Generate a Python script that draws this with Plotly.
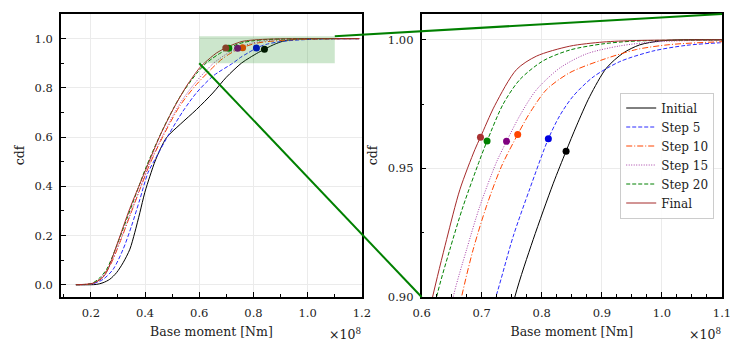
import plotly.graph_objects as go

# ---------------------------------------------------------------------------
# data: cdf of base moment [x 1e8 Nm] per optimisation step
# ---------------------------------------------------------------------------
names = ["Initial", "Step 5", "Step 10", "Step 15", "Step 20", "Final"]

x_initial = [0.145, 0.22, 0.245, 0.27, 0.295, 0.319, 0.344, 0.362, 0.381, 0.399, 0.418, 0.44,
             0.479, 0.53, 0.59, 0.65, 0.70, 0.7552, 0.7857, 0.8189, 0.8405, 0.8578, 0.880,
             0.9077, 0.9354, 0.963, 0.9964, 1.03, 1.10, 1.19]
y_initial = [0.0, 0.001, 0.008, 0.022, 0.049, 0.089, 0.144, 0.211, 0.293, 0.374, 0.441, 0.51,
             0.597, 0.652, 0.712, 0.779, 0.843, 0.9, 0.9223, 0.944, 0.9567, 0.9665, 0.978,
             0.989, 0.9948, 0.998, 0.9995, 0.99995, 1.0, 1.0]

x_step5 = [0.145, 0.2085, 0.245, 0.282, 0.319, 0.35, 0.381, 0.411, 0.442, 0.4915, 0.5406, 0.59,
           0.651, 0.7236, 0.7524, 0.780, 0.811, 0.830, 0.852, 0.8855, 0.930, 0.985, 1.04, 1.096, 1.19]
y_step5 = [0.0, 0.004, 0.0215, 0.062, 0.1435, 0.238, 0.347, 0.455, 0.52, 0.618, 0.706, 0.78,
           0.848, 0.9, 0.9235, 0.942, 0.9615, 0.9705, 0.978, 0.9855, 0.9915, 0.9956, 0.9978, 0.9988, 0.9996]

x_step10 = [0.145, 0.2, 0.233, 0.27, 0.307, 0.344, 0.381, 0.4177, 0.4668, 0.528, 0.59, 0.6665,
            0.6858, 0.708, 0.733, 0.760, 0.780, 0.8079, 0.8467, 0.902, 0.9576, 1.013, 1.096, 1.19]
y_step10 = [0.0, 0.003, 0.0215, 0.0756, 0.171, 0.279, 0.387, 0.49, 0.604, 0.726, 0.814, 0.9,
            0.9184, 0.9353, 0.9508, 0.9632, 0.9715, 0.9806, 0.9872, 0.9923, 0.9962, 0.9981, 0.9992, 0.9997]

x_step15 = [0.145, 0.2, 0.233, 0.27, 0.307, 0.344, 0.381, 0.4177, 0.4668, 0.528, 0.59, 0.6526,
            0.6749, 0.697, 0.7248, 0.7414, 0.7635, 0.791, 0.830, 0.8744, 0.930, 0.985, 1.05, 1.19]
y_step15 = [0.0, 0.003, 0.022, 0.078, 0.175, 0.283, 0.39, 0.495, 0.61, 0.735, 0.827, 0.9,
            0.9184, 0.9353, 0.9525, 0.9605, 0.9705, 0.9805, 0.989, 0.9945, 0.9976, 0.9991, 0.9997, 1.0]

x_step20 = [0.145, 0.2, 0.227, 0.258, 0.295, 0.332, 0.3686, 0.4055, 0.4668, 0.528, 0.59, 0.625,
            0.647, 0.6692, 0.697, 0.709, 0.7358, 0.7635, 0.8023, 0.8467, 0.902, 0.958, 1.19]
y_step20 = [0.0, 0.004, 0.0215, 0.062, 0.157, 0.265, 0.374, 0.482, 0.634, 0.762, 0.858, 0.9,
            0.9184, 0.9353, 0.9534, 0.9606, 0.975, 0.9845, 0.9918, 0.996, 0.9984, 0.9995, 1.0]

x_final = [0.145, 0.2085, 0.24, 0.258, 0.297, 0.344, 0.381, 0.4055, 0.4546, 0.5037, 0.553, 0.602,
           0.6183, 0.6416, 0.6637, 0.6887, 0.698, 0.722, 0.758, 0.791, 0.8467, 0.902, 0.958, 1.19]
y_final = [0.0, 0.006, 0.025, 0.05, 0.165, 0.31, 0.41, 0.475, 0.604, 0.7126, 0.807, 0.882,
           0.9, 0.9223, 0.9417, 0.9573, 0.9621, 0.9745, 0.9884, 0.9936, 0.9975, 0.9991, 0.9997, 1.0]

# highlighted point on each curve
mark_x = [0.8405, 0.811, 0.760, 0.7414, 0.709, 0.698]
mark_y = [0.9567, 0.9615, 0.9632, 0.9605, 0.9606, 0.9621]

xs = [x_initial, x_step5, x_step10, x_step15, x_step20, x_final]
ys = [y_initial, y_step5, y_step10, y_step15, y_step20, y_final]

line_col = ["black", "#2a2aff", "#ff4500", "#a63fa6", "#008000", "#a52a2a"]
mark_col = ["black", "#0000e0", "#ff4500", "#800080", "#008000", "#a83232"]
dashes = ["solid", "4px,2px", "6px,2px,1px,2px", "1px,1.5px", "4px,2px", "solid"]

FONT = "DejaVu Serif"
# page body has an 8px margin, so the figure is made 8px smaller and margins trimmed
W, H = 739, 344
ML, MR, MT, MB = 53, 25, 6, 55
dom_l = [0.0, 0.4552]
dom_r = [0.5455, 1.0]
xr_l, yr_l = [0.09, 1.2], [-0.05, 1.1]
xr_r, yr_r = [0.6, 1.1], [0.9, 1.01]

fig = go.Figure()
for i, n in enumerate(names):
    for ax, show in (("", False), ("2", True)):
        fig.add_trace(go.Scatter(
            x=xs[i], y=ys[i], mode="lines", name=n, showlegend=show, legendgroup=n,
            line=dict(color=line_col[i], width=1, dash=dashes[i], shape="spline", smoothing=0.8),
            xaxis="x" + ax, yaxis="y" + ax, hoverinfo="skip"))
for i, n in enumerate(names):
    for ax in ("", "2"):
        fig.add_trace(go.Scatter(
            x=[mark_x[i]], y=[mark_y[i]], mode="markers", showlegend=False,
            marker=dict(color=mark_col[i], size=7), xaxis="x" + ax, yaxis="y" + ax))

axis_common = dict(showline=True, linecolor="black", linewidth=1.6, mirror=True,
                   ticks="inside", ticklen=5, tickwidth=1, tickcolor="black",
                   showgrid=True, gridcolor="#ebebeb", gridwidth=0.8, zeroline=False,
                   automargin=False, tickfont=dict(family=FONT, size=11.5, color="#222"))
minor_common = dict(ticks="inside", ticklen=3, showgrid=False)
title_font = dict(family=FONT, size=12.5, color="#222")

fig.update_layout(
    width=W, height=H, margin=dict(l=ML, r=MR, t=MT, b=MB),
    plot_bgcolor="white", paper_bgcolor="white",
    font=dict(family=FONT, size=12, color="#222"),
    xaxis=dict(domain=dom_l, range=xr_l, dtick=0.2, tick0=0.2, tickformat=".1f",
               minor=dict(dtick=0.1, tick0=0.0, **minor_common), ticklabelstandoff=4,
               title=dict(text="Base moment [Nm]", standoff=9, font=title_font),
               anchor="y", **axis_common),
    yaxis=dict(domain=[0, 1], range=yr_l, dtick=0.2, tick0=0.0, tickformat=".1f",
               minor=dict(dtick=0.1, tick0=0.0, **minor_common), ticklabelstandoff=4,
               title=dict(text="cdf", standoff=7, font=title_font),
               anchor="x", **axis_common),
    xaxis2=dict(domain=dom_r, range=xr_r, dtick=0.1, tick0=0.6, tickformat=".1f",
                minor=dict(dtick=0.025, tick0=0.6, **minor_common), ticklabelstandoff=4,
                title=dict(text="Base moment [Nm]", standoff=9, font=title_font),
                anchor="y2", **axis_common),
    yaxis2=dict(domain=[0, 1], range=yr_r, dtick=0.05, tick0=0.9, tickformat=".2f",
                minor=dict(dtick=0.025, tick0=0.9, **minor_common), ticklabelstandoff=4,
                title=dict(text="cdf", standoff=7, font=title_font),
                anchor="x2", **axis_common),
    legend=dict(x=0.846, y=0.50, xanchor="left", yanchor="middle",
                bgcolor="rgba(255,255,255,0.85)", bordercolor="#cccccc", borderwidth=1,
                font=dict(family=FONT, size=12, color="#222"), tracegroupgap=0,
                itemwidth=30),
)

# zoom region on the left panel
fig.add_shape(type="rect", xref="x", yref="y", x0=xr_r[0], x1=xr_r[1], y0=yr_r[0], y1=yr_r[1],
              fillcolor="rgba(0,128,0,0.2)", line=dict(width=0), layer="above")


def px_l(v):
    return dom_l[0] + (v - xr_l[0]) / (xr_l[1] - xr_l[0]) * (dom_l[1] - dom_l[0])


def py_l(v):
    return (v - yr_l[0]) / (yr_l[1] - yr_l[0])


def px_r(v):
    return dom_r[0] + (v - xr_r[0]) / (xr_r[1] - xr_r[0]) * (dom_r[1] - dom_r[0])


def py_r(v):
    return (v - yr_r[0]) / (yr_r[1] - yr_r[0])


# connector lines rect corner -> zoomed-axes corner
for cx, cy in ((xr_r[1], yr_r[1]), (xr_r[0], yr_r[0])):
    fig.add_shape(type="line", xref="paper", yref="paper",
                  x0=px_l(cx), y0=py_l(cy), x1=px_r(cx), y1=py_r(cy),
                  line=dict(color="#008000", width=2), layer="above")

# matplotlib-style offset text
for xp in (dom_l[1], dom_r[1]):
    fig.add_annotation(text="×10<sup>8</sup>", xref="paper", yref="paper", x=xp + 0.002, y=-0.132,
                       xanchor="right", yanchor="middle", showarrow=False,
                       font=dict(family=FONT, size=12.5, color="#222"))

fig.write_html("out.html")
